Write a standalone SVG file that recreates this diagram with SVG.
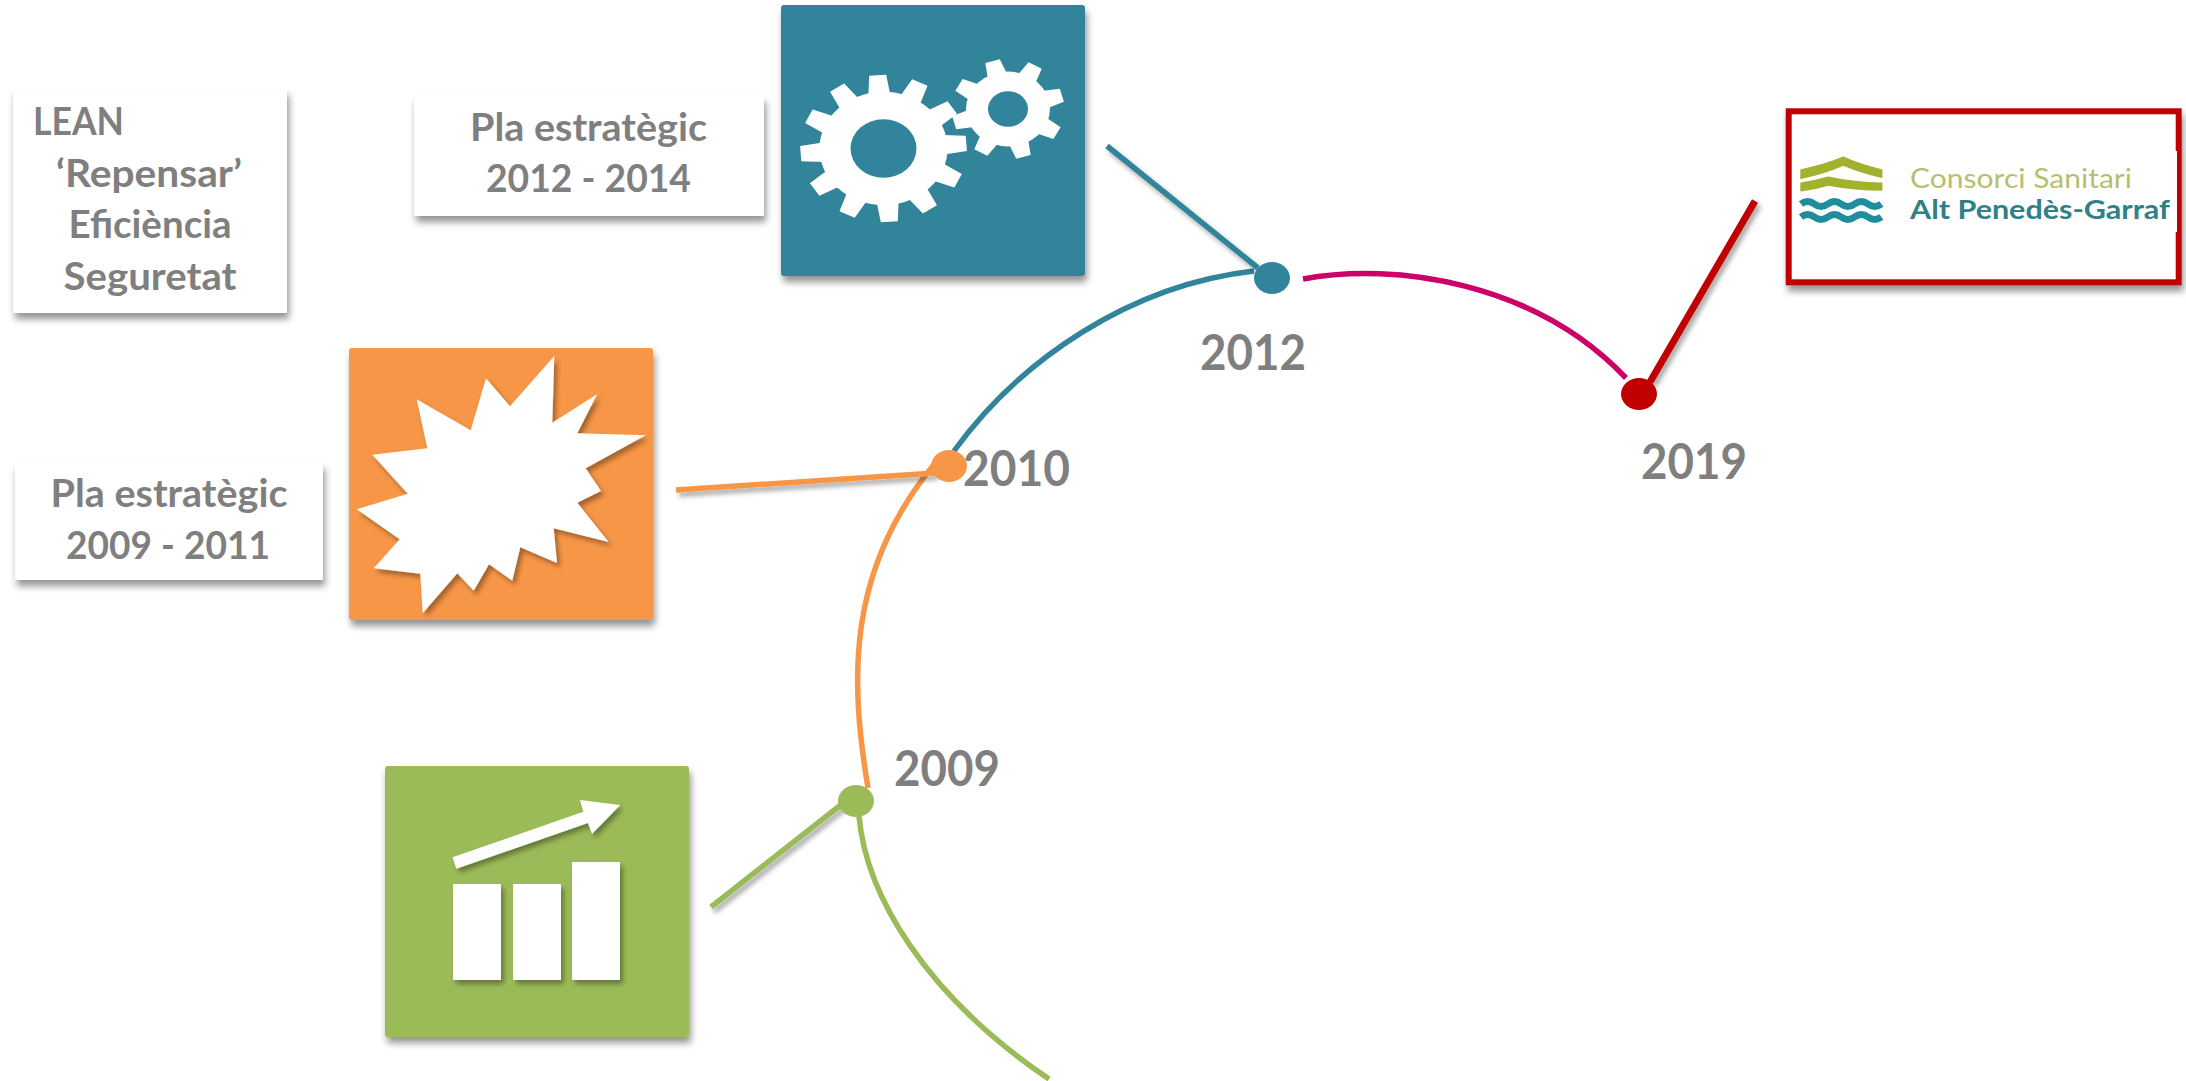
<svg xmlns="http://www.w3.org/2000/svg" width="2186" height="1081" viewBox="0 0 2186 1081">
<style>
text{font-family:"Lato","Liberation Sans",sans-serif;font-weight:700;fill:#7f7f7f}
.lbl{font-size:39px;text-anchor:middle}
.yr{font-size:49px}
.con{fill:none;stroke-width:5.5}
.card{fill:#fff;filter:url(#sh)}
.w{fill:#fff}
.lg{fill:#a2b22f;stroke:#a2b22f;stroke-width:1.5;stroke-linejoin:round}
.wv{fill:none;stroke:#1f8d9b;stroke-width:7}
</style>
<defs>
<filter id="sh" x="-20%" y="-20%" width="140%" height="140%"><feDropShadow dx="2" dy="6" stdDeviation="3.5" flood-color="#000" flood-opacity=".42"/></filter>
<filter id="shs" x="-20%" y="-20%" width="140%" height="140%"><feDropShadow dx="3" dy="4" stdDeviation="2.5" flood-color="#000" flood-opacity=".35"/></filter>
<polygon id="t1" points="-11,-60 -8.5,-83 8.5,-83 11,-60"/>
<polygon id="t2" points="-10,-38 -7.5,-56 7.5,-56 10,-38"/>
</defs>
<rect width="2186" height="1081" fill="#fff"/>

<g id="card-lean">
<rect class="card" x="13" y="89" width="274" height="224"/>
<text x="33" y="135" textLength="91" lengthAdjust="spacingAndGlyphs" style="font-size:39px">LEAN</text>
<text class="lbl" x="149" y="187" textLength="186" lengthAdjust="spacingAndGlyphs">‘Repensar’</text>
<text class="lbl" x="150" y="238" textLength="163" lengthAdjust="spacingAndGlyphs">Eficiència</text>
<text class="lbl" x="150" y="290" textLength="173" lengthAdjust="spacingAndGlyphs">Seguretat</text>
</g>
<g id="card-2012">
<rect class="card" x="414" y="96" width="350" height="120"/>
<text class="lbl" x="588.5" y="141" textLength="237" lengthAdjust="spacingAndGlyphs">Pla estratègic</text>
<text class="lbl" x="588.5" y="192" textLength="205" lengthAdjust="spacingAndGlyphs">2012 - 2014</text>
</g>
<g id="card-2009">
<rect class="card" x="15" y="463" width="308" height="117"/>
<text class="lbl" x="169" y="507" textLength="237" lengthAdjust="spacingAndGlyphs">Pla estratègic</text>
<text class="lbl" x="168" y="559" textLength="204" lengthAdjust="spacingAndGlyphs">2009 - 2011</text>
</g>

<g id="icon-gears">
<rect x="781" y="5" width="304" height="271" rx="3" fill="#31849b" filter="url(#sh)"/>
<g class="w" transform="translate(883.5 148.5) scale(1 .885)">
<circle r="64"/>
<use href="#t1" transform="rotate(-4)"/><use href="#t1" transform="rotate(26)"/><use href="#t1" transform="rotate(56)"/><use href="#t1" transform="rotate(86)"/><use href="#t1" transform="rotate(116)"/><use href="#t1" transform="rotate(146)"/><use href="#t1" transform="rotate(176)"/><use href="#t1" transform="rotate(206)"/><use href="#t1" transform="rotate(236)"/><use href="#t1" transform="rotate(266)"/><use href="#t1" transform="rotate(296)"/><use href="#t1" transform="rotate(326)"/>
<circle r="33" fill="#31849b"/>
</g>
<g class="w" transform="translate(1008 109) scale(1 .89)">
<circle r="42"/>
<use href="#t2" transform="rotate(-16)"/><use href="#t2" transform="rotate(29)"/><use href="#t2" transform="rotate(74)"/><use href="#t2" transform="rotate(119)"/><use href="#t2" transform="rotate(164)"/><use href="#t2" transform="rotate(209)"/><use href="#t2" transform="rotate(254)"/><use href="#t2" transform="rotate(299)"/>
<circle r="20" fill="#31849b"/>
</g>
</g>

<g id="icon-burst">
<rect x="349" y="348" width="304" height="272" rx="3" fill="#f79646" filter="url(#sh)"/>
<polygon class="w" filter="url(#shs)" points="554.3,356 552.3,422.7 597.3,394 577.3,433.3 645.7,435.3 585.7,468.3 601,491 577.3,502.7 608.7,542 553.7,528.3 557,563 520.3,547.3 512.3,580.7 489,564.3 473.7,590.7 457.3,573.3 422.7,613.3 420.3,573.7 373.7,568.3 399.7,539.3 356.7,509.3 407.7,493.7 372.3,454.7 427.3,448.3 416.7,399.3 470.7,430.3 486,378.3 510,406.3"/>
</g>

<g id="icon-chart">
<rect x="385" y="766" width="304" height="271" rx="3" fill="#9bbb59" filter="url(#sh)"/>
<g class="w" filter="url(#shs)">
<rect x="453" y="884" width="48" height="96"/>
<rect x="513" y="884" width="48" height="96"/>
<rect x="572" y="862" width="48" height="118"/>
<polygon points="452.5,857.3 583.3,811.7 580,800 620.2,805 592,834 588,823 456.3,868.7"/>
</g>
</g>

<g id="connectors">
<path class="con" stroke="#9bbb59" d="M859 816C866 895 925 995 1049 1079"/>
<path class="con" stroke="#f79646" d="M868 788C850 680 846 570 936 462"/>
<path class="con" stroke="#31849b" d="M954 451C1020 360 1130 285 1254 271"/>
<path class="con" stroke="#cc0066" d="M1303 279C1395 262 1535 282 1626 378"/>
<g filter="url(#shs)">
<line class="con" stroke="#9bbb59" x1="711" y1="907" x2="842" y2="804"/>
<line class="con" stroke="#f79646" x1="676" y1="490" x2="935" y2="473"/>
<line class="con" stroke="#31849b" x1="1107" y1="146" x2="1258" y2="268"/>
<line class="con" stroke="#c00000" style="stroke-width:7" x1="1650" y1="382" x2="1755" y2="201"/>
</g>
</g>

<g id="node-2009"><ellipse cx="856" cy="801" rx="18" ry="16" fill="#9bbb59"/><text class="yr" x="894" y="786" textLength="106" lengthAdjust="spacingAndGlyphs">2009</text></g>
<g id="node-2010"><ellipse cx="949" cy="466" rx="18" ry="16" fill="#f79646"/><text class="yr" x="963" y="486" textLength="107" lengthAdjust="spacingAndGlyphs">2010</text></g>
<g id="node-2012"><ellipse cx="1272" cy="278" rx="18" ry="16" fill="#31849b"/><text class="yr" x="1200" y="370" textLength="106" lengthAdjust="spacingAndGlyphs">2012</text></g>
<g id="node-2019"><ellipse cx="1639" cy="394" rx="18" ry="16" fill="#c00000"/><text class="yr" x="1641" y="479" textLength="106" lengthAdjust="spacingAndGlyphs">2019</text></g>

<g id="logo-box">
<rect x="1788.7" y="111.3" width="390" height="171" fill="#fff" stroke="#c00000" stroke-width="6" filter="url(#sh)"/>
<rect x="1795" y="151" width="382" height="81" fill="#fff"/>
<path class="lg" d="M1801 170Q1825 165 1843.3 157.3Q1860 165 1881.7 170V177.3Q1860 172 1843.3 165Q1825 173 1801 178.3Z"/>
<path class="lg" d="M1801 183.3Q1815 181 1828.3 177.3Q1855 183 1881.7 183.3V190Q1855 190 1828.3 185Q1815 189 1801 190.7Z"/>
<path class="wv" d="M1801 204q6.7-5 13.4 0t13.4 0 13.4 0 13.4 0 13.4 0 13.4 0"/>
<path class="wv" d="M1801 217q6.7-5 13.4 0t13.4 0 13.4 0 13.4 0 13.4 0 13.4 0"/>
<text x="1910" y="187.5" textLength="222" lengthAdjust="spacingAndGlyphs" style="font-size:26px;font-weight:400;fill:#b5c06c">Consorci Sanitari</text>
<text x="1910" y="219" textLength="260" lengthAdjust="spacingAndGlyphs" style="font-size:26px;font-weight:700;fill:#2f8088">Alt Penedès-Garraf</text>
</g>
</svg>
